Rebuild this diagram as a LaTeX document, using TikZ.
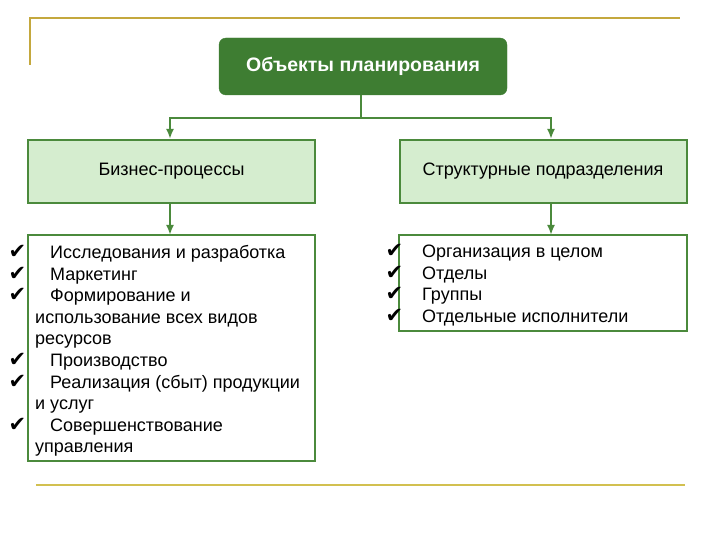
\documentclass[tikz,border=0pt]{standalone}
\usepackage{fontspec}
\setmainfont{Liberation Sans}
\newfontfamily\symfont{DejaVu Sans}
\usetikzlibrary{arrows.meta}

\definecolor{darkgreen}{RGB}{62,125,50}
\definecolor{linegreen}{RGB}{75,138,60}
\definecolor{palegreen}{RGB}{213,237,207}
\definecolor{goldline}{RGB}{196,168,62}
\definecolor{yellowline}{RGB}{210,192,80}

% check mark hanging left of the line
\newcommand{\chk}[1][9pt]{\makebox[0pt][r]{\smash{\symfont\fontsize{21}{21}\selectfont ✔}\hspace{#1}}\hspace{15pt}}

\begin{document}
\begin{tikzpicture}[x=1pt,y=-1pt,
    topbox/.style={draw=darkgreen,fill=darkgreen,rounded corners=7pt,text=white,
      font=\fontsize{19.5}{22}\selectfont\bfseries,minimum width=288pt,minimum height=57pt},
    midbox/.style={draw=linegreen,line width=2pt,fill=palegreen,
      font=\fontsize{18}{21}\selectfont,minimum width=287pt,minimum height=63pt},
    listbox/.style={draw=linegreen,line width=2pt,fill=white,anchor=north west,outer sep=0pt},
    listtext/.style={anchor=north west,align=left,inner sep=0pt,
      font=\fontsize{18}{21.6}\selectfont},
    link/.style={draw=linegreen,line width=2pt,-{Latex[length=10pt,width=8pt]}}]
    \useasboundingbox (0,0) rectangle (720,540);

    %% frame lines
    \draw[goldline,line width=1.5pt] (30,65) -- (30,18) -- (680,18);
    \draw[yellowline,line width=2pt] (36,485) -- (685,485);

    %% boxes
    \node[topbox] (top) at (363,66.5) {Объекты планирования};
    \node[midbox] (biz) at (171.5,171.5) {Бизнес-процессы};
    \node[midbox] (struct) at (543,171.5) {Структурные подразделения};

    \node[listbox,minimum width=287pt,minimum height=226pt] (bizlist) at (28,235) {};
    \node[listbox,minimum width=288pt,minimum height=96pt] (structlist) at (399,235) {};

    %% list texts
    \node[listtext] (biztext) at (35,245) {%
      \chk Исследования и разработка\\
      \chk Маркетинг\\
      \chk Формирование и\\
      использование всех видов\\
      ресурсов\\
      \chk Производство\\
      \chk Реализация (сбыт) продукции\\
      и услуг\\
      \chk Совершенствование\\
      управления};
    \node[listtext] (structtext) at (407,245) {%
      \chk[4pt]Организация в целом\\
      \chk[4pt]Отделы\\
      \chk[4pt]Группы\\
      \chk[4pt]Отдельные исполнители};

    %% connectors
    \coordinate (split) at (361,118);
    \coordinate (leftx) at (170,0);
    \coordinate (rightx) at (551,0);
    \draw[link] (top.south -| split) -- (split) -| (leftx |- biz.north);
    \draw[link] (split) -| (rightx |- struct.north);
    \draw[link] (leftx |- biz.south) -- (leftx |- bizlist.north);
    \draw[link] (rightx |- struct.south) -- (rightx |- structlist.north);
\end{tikzpicture}
\end{document}
